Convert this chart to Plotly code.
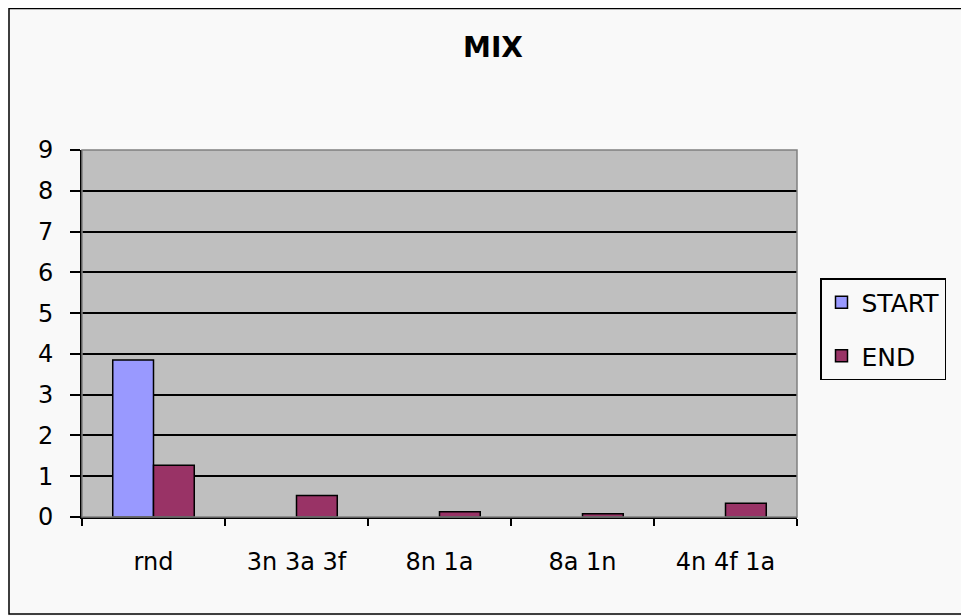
import plotly.graph_objects as go

categories = ["rnd", "3n 3a 3f", "8n 1a", "8a 1n", "4n 4f 1a"]
start_vals = [3.85, 0, 0, 0, 0]
end_vals = [1.27, 0.53, 0.13, 0.08, 0.34]
y_ticks = list(range(0, 10))

# page has an 8px body margin; work in reference pixel coords and shift
OFF = 8
W, H = 969 - OFF, 616 - OFF
PL, PR, PT, PB = 82, 797, 150, 517   # plot area in reference pixels
L, T = PL - OFF, PT - OFF
R, B = W - (PR - OFF), H - (PB - OFF)
pw, ph = W - L - R, H - T - B

def px(x):
    return (x - OFF - L) / pw

def py(y):
    return (H - B - (y - OFF)) / ph

FONT = "DejaVu Sans, Liberation Sans, Arial, sans-serif"

def outline(vals):
    return [1.5 if v > 0 else 0 for v in vals]

fig = go.Figure()
fig.add_trace(go.Bar(name="START", x=categories, y=start_vals, legendgroup="s",
                     marker=dict(color="#9999ff",
                                 line=dict(color="black", width=outline(start_vals)))))
fig.add_trace(go.Bar(name="END", x=categories, y=end_vals, legendgroup="e",
                     marker=dict(color="#993366",
                                 line=dict(color="black", width=outline(end_vals)))))

fig.update_layout(
    width=W, height=H,
    margin=dict(l=L, r=R, t=T, b=B, pad=0),
    paper_bgcolor="#f9f9f9",
    plot_bgcolor="#bfbfbf",
    barmode="group",
    bargap=0.43,
    bargroupgap=0,
    font=dict(family=FONT, size=24, color="black"),
    title=dict(text="<b>MIX</b>", x=(493 - OFF) / W, xanchor="center",
               y=1 - (47 - OFF) / H, yanchor="middle",
               font=dict(family=FONT, size=28)),
    showlegend=True,
    legend=dict(x=px(820), y=py(278), xanchor="left", yanchor="top",
                bgcolor="#f9f9f9", bordercolor="black", borderwidth=1.5,
                font=dict(family=FONT, size=25), traceorder="grouped",
                tracegroupgap=18, itemwidth=30),
    xaxis=dict(showline=True, linecolor="black", linewidth=2, mirror=False,
               ticks="outside", tickson="boundaries", ticklen=7, tickwidth=2,
               tickcolor="black", ticklabelstandoff=22,
               tickfont=dict(family=FONT, size=24)),
    yaxis=dict(range=[0, 9], tickvals=y_ticks, showgrid=True, gridcolor="black",
               gridwidth=2, showline=True, linecolor="black", linewidth=2,
               ticks="outside", ticklen=10, tickwidth=2, tickcolor="black",
               zeroline=False, ticklabelstandoff=12,
               tickfont=dict(family=FONT, size=24)),
    shapes=[
        dict(type="rect", xref="paper", yref="paper",
             x0=px(9), x1=px(967), y0=py(614), y1=py(OFF + 0.5),
             line=dict(color="black", width=1.5), fillcolor="rgba(0,0,0,0)",
             layer="below"),
        dict(type="rect", xref="paper", yref="paper",
             x0=0, x1=1, y0=0, y1=1,
             line=dict(color="#808080", width=1.5), fillcolor="rgba(0,0,0,0)"),
    ],
)

fig.write_html("out.html")
